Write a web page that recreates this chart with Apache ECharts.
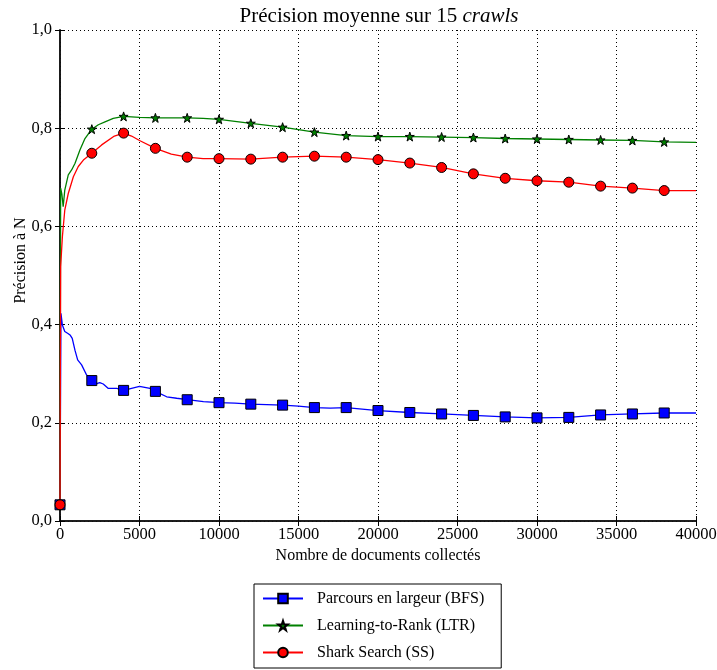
<!DOCTYPE html>
<html>
<head>
<meta charset="utf-8">
<script src="https://cdn.jsdelivr.net/npm/echarts@6/dist/echarts.min.js"></script>
<style>html,body{margin:0;padding:0;background:#fff;}#c{width:717px;height:670px;}</style>
</head>
<body>
<div id="c"></div>
<script>
// ---- data ----
const xBFS = [0, 60, 150, 300, 500, 630, 770, 940, 1110, 1360, 1680, 2000, 2310, 2500, 2720, 3040, 3570, 4000, 4500, 5000, 5660, 6000, 6710, 7340, 8000, 9020, 10000, 11000, 12000, 13000, 14000, 15000, 16000, 17000, 18000, 19000, 20000, 22000, 24000, 26000, 28000, 30000, 32000, 34000, 36000, 38000, 40000];
const yBFS = [0.033, 0.423, 0.399, 0.386, 0.382, 0.379, 0.372, 0.348, 0.328, 0.318, 0.297, 0.286, 0.280, 0.282, 0.279, 0.270, 0.270, 0.266, 0.270, 0.274, 0.270, 0.264, 0.253, 0.250, 0.247, 0.243, 0.241, 0.240, 0.238, 0.237, 0.236, 0.234, 0.231, 0.230, 0.231, 0.228, 0.225, 0.221, 0.218, 0.215, 0.212, 0.210, 0.211, 0.216, 0.218, 0.220, 0.220];

const xLTR = [0, 40, 120, 200, 300, 520, 730, 940, 1260, 1570, 2000, 2410, 2830, 3350, 4000, 5000, 6000, 7000, 8000, 9000, 10000, 12000, 14000, 16000, 18000, 20000, 22000, 24000, 26000, 28000, 30000, 32000, 34000, 36000, 38000, 40000];
const yLTR = [0.033, 0.678, 0.665, 0.640, 0.674, 0.705, 0.715, 0.728, 0.756, 0.779, 0.798, 0.807, 0.813, 0.820, 0.824, 0.822, 0.821, 0.821, 0.821, 0.820, 0.818, 0.810, 0.802, 0.792, 0.785, 0.783, 0.783, 0.782, 0.781, 0.779, 0.778, 0.777, 0.776, 0.775, 0.772, 0.771];

const xSS = [0, 40, 150, 300, 520, 840, 1150, 1470, 2000, 2620, 3420, 4000, 4500, 5000, 6000, 7000, 8000, 9000, 10000, 12000, 14000, 16000, 18000, 20000, 22000, 24000, 26000, 28000, 30000, 32000, 34000, 36000, 38000, 40000];
const ySS = [0.033, 0.518, 0.579, 0.633, 0.667, 0.701, 0.722, 0.735, 0.749, 0.766, 0.784, 0.790, 0.784, 0.775, 0.759, 0.747, 0.741, 0.738, 0.738, 0.737, 0.741, 0.743, 0.741, 0.736, 0.729, 0.720, 0.707, 0.698, 0.693, 0.690, 0.682, 0.678, 0.673, 0.673];

const seriesNames = ['Parcours en largeur (BFS)', 'Learning-to-Rank (LTR)', 'Shark Search (SS)'];
const xTicks = [0, 5000, 10000, 15000, 20000, 25000, 30000, 35000, 40000];
const yTicks = [0.0, 0.2, 0.4, 0.6, 0.8, 1.0];
const markEvery = 2000;
const xMax = 40000;

const FONT = 'Liberation Serif';
const STAR = 'path://M50,0 L61.8,35.1 L98.9,35.5 L69.1,57.6 L80.2,93.1 L50,71.5 L19.8,93.1 L30.9,57.6 L1.1,35.5 L38.2,35.1 Z';

function build(xs, ys) {
  return xs.map((x, i) => {
    const item = { value: [x, ys[i]] };
    if (!(x % markEvery === 0 && x < xMax)) item.symbol = 'none';
    return item;
  });
}

function mkSeries(name, xs, ys, color, symbol, size) {
  return {
    name: name,
    type: 'line',
    data: build(xs, ys),
    symbol: symbol,
    symbolSize: size,
    showAllSymbol: true,
    clip: true,
    lineStyle: { color: color, width: 1.3 },
    itemStyle: { color: color, borderColor: '#000', borderWidth: 1 },
    emphasis: { disabled: true },
    animation: false,
    z: 3
  };
}

const chart = echarts.init(document.getElementById('c'), null, { renderer: 'canvas' });
const gridLeft = 60, gridRight = 21, gridTop = 30, gridBottom = 149;
const tickStyle = { show: true, inside: true, length: 5, lineStyle: { color: '#000', width: 1 } };
const lineStyleAxis = { show: true, lineStyle: { color: '#111', width: 1.6 } };

chart.setOption({
  backgroundColor: '#fff',
  animation: false,
  title: {
    text: '{a|Précision moyenne sur 15 }{b|crawls}',
    left: 374, textAlign: 'center', top: 1,
    textStyle: {
      fontWeight: 'normal',
      rich: {
        a: { fontFamily: FONT, fontSize: 21, color: '#000', fontWeight: 'normal' },
        b: { fontFamily: FONT, fontSize: 21, color: '#000', fontStyle: 'italic', fontWeight: 'normal' }
      }
    }
  },
  grid: { left: gridLeft, right: gridRight, top: gridTop, bottom: gridBottom, containLabel: false, outerBoundsMode: 'none' },
  legend: {
    orient: 'vertical',
    left: 254, top: 584,
    data: seriesNames,
    itemWidth: 40, itemHeight: 12, itemGap: 8,
    padding: [5, 17, 6, 8],
    borderColor: '#000', borderWidth: 1, borderRadius: 0,
    backgroundColor: '#fff',
    textStyle: { fontFamily: FONT, fontSize: 16, lineHeight: 19, color: '#000', padding: [0, 0, 0, 9] },
    selectedMode: false
  },
  xAxis: [{
    type: 'value', position: 'bottom', min: 0, max: xMax, interval: 5000,
    name: 'Nombre de documents collectés', nameLocation: 'middle', nameGap: 25,
    nameTextStyle: { fontFamily: FONT, fontSize: 16, color: '#000' },
    axisLine: lineStyleAxis, axisTick: tickStyle,
    axisLabel: { fontFamily: FONT, fontSize: 16.5, color: '#000', margin: 5,
      formatter: v => xTicks.includes(v) ? String(v) : '' },
    splitLine: { show: true, lineStyle: { color: '#000', type: [1, 3], width: 1 } }
  }, {
    type: 'value', position: 'top', min: 0, max: xMax, interval: 5000,
    axisLine: lineStyleAxis, axisTick: tickStyle, axisLabel: { show: false }, splitLine: { show: false }
  }],
  yAxis: [{
    type: 'value', position: 'left', min: 0, max: 1, interval: 0.2,
    name: 'Précision à N', nameLocation: 'middle', nameGap: 31, nameRotate: 90,
    nameMoveOverlap: false,
    nameTextStyle: { fontFamily: FONT, fontSize: 16, color: '#000', padding: [0, 0, 0, 30] },
    axisLine: lineStyleAxis, axisTick: tickStyle,
    axisLabel: { fontFamily: FONT, fontSize: 16.5, color: '#000', margin: 8,
      formatter: v => yTicks.find(t => Math.abs(t - v) < 1e-9) !== undefined ? v.toFixed(1).replace('.', ',') : '' },
    splitLine: { show: true, lineStyle: { color: '#000', type: [1, 3], width: 1 } }
  }, {
    type: 'value', position: 'right', min: 0, max: 1, interval: 0.2,
    axisLine: lineStyleAxis, axisTick: tickStyle, axisLabel: { show: false }, splitLine: { show: false }
  }],
  series: [
    mkSeries(seriesNames[0], xBFS, yBFS, '#0000ff', 'rect', 10),
    mkSeries(seriesNames[1], xLTR, yLTR, '#008000', STAR, 9),
    mkSeries(seriesNames[2], xSS, ySS, '#ff0000', 'circle', 10)
  ]
});
</script>
</body>
</html>
